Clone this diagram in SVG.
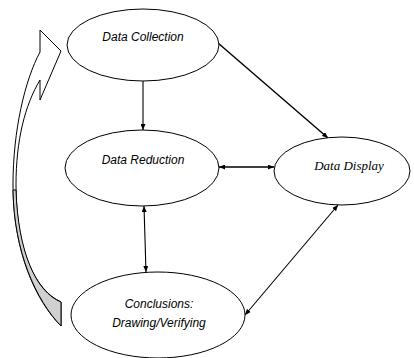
<svg xmlns="http://www.w3.org/2000/svg" width="414" height="358" viewBox="0 0 414 358">
<style>
.node ellipse{fill:#fff;stroke:#000;stroke-width:1}
.sans{font-family:"Liberation Sans",Arial,sans-serif;font-style:italic;font-size:12px;fill:#000}
.serif{font-family:"Liberation Serif","Times New Roman",serif;font-style:italic;font-size:13px;fill:#000}
.conn line{stroke:#000;stroke-width:1.1;fill:none}
</style>
<defs>
<marker id="ah" viewBox="0 0 10 10" refX="10" refY="5" markerWidth="6" markerHeight="5" orient="auto-start-reverse" markerUnits="userSpaceOnUse" preserveAspectRatio="none">
<path d="M0,0 L10,5 L0,10 Z" fill="#000"/>
</marker>
</defs>
<rect width="414" height="358" fill="#fff"/>
<g id="feedback-arrow">
<path d="M61,51 L40,30 L40,52 C25,80 13,130 13,185 C13,250 35,300 61,326 L61,302 C35,290 16,250 16,185 C16,140 25,105 40,80 L40,100 Z" fill="#fff" stroke="#000" stroke-width="1"/>
<path d="M13,190 C14,252 36,300 61,326 L61,302 C36,292 18,252 16,190 Z" fill="#d0d0d0" stroke="#000" stroke-width="1"/>
</g>
<g class="conn" id="connectors">
<line x1="143" y1="81" x2="143" y2="130" marker-end="url(#ah)"/>
<line x1="218" y1="43" x2="328" y2="138" marker-end="url(#ah)" style="stroke-width:1.4"/>
<line x1="219" y1="167" x2="274" y2="167" marker-start="url(#ah)" marker-end="url(#ah)" style="stroke-width:1.6"/>
<line x1="144" y1="206" x2="146" y2="272" marker-start="url(#ah)" marker-end="url(#ah)"/>
<line x1="338" y1="205" x2="245" y2="315" marker-start="url(#ah)" marker-end="url(#ah)"/>
</g>
<g class="node" id="data-collection">
<ellipse cx="143" cy="45" rx="76" ry="36"/>
<text class="sans" x="143" y="41" text-anchor="middle">Data Collection</text>
</g>
<g class="node" id="data-reduction">
<ellipse cx="142" cy="168" rx="77" ry="38"/>
<text class="sans" x="143" y="164" text-anchor="middle">Data Reduction</text>
</g>
<g class="node" id="data-display">
<ellipse cx="342" cy="171" rx="68" ry="34"/>
<text class="serif" x="349" y="170" text-anchor="middle">Data Display</text>
</g>
<g class="node" id="conclusions">
<ellipse cx="158" cy="315" rx="87" ry="43"/>
<text class="sans" x="159" y="308" text-anchor="middle">Conclusions:</text>
<text class="sans" x="159" y="327" text-anchor="middle">Drawing/Verifying</text>
</g>
</svg>
